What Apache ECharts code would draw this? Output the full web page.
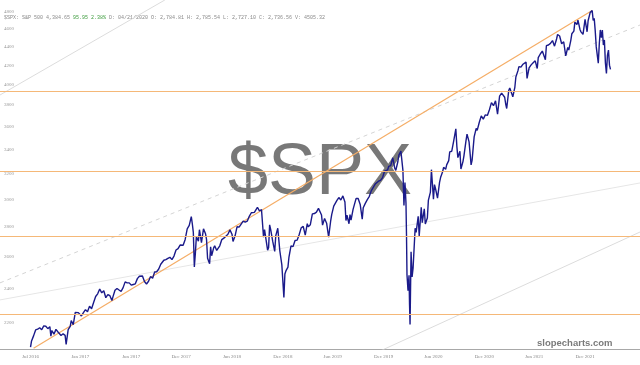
<!DOCTYPE html>
<html>
<head>
<meta charset="utf-8">
<script src="https://cdn.jsdelivr.net/npm/echarts@6/dist/echarts.min.js"></script>
<style>
  html, body { margin: 0; padding: 0; background: #fff; }
  #chart { width: 640px; height: 365px; }
</style>
</head>
<body>
<div id="chart"></div>
<script>
const priceDates = [
  2016.49, 2016.50, 2016.52, 2016.54, 2016.56, 2016.58, 2016.60, 2016.62, 2016.64, 2016.66,
  2016.68, 2016.69, 2016.70, 2016.72, 2016.74, 2016.76, 2016.77, 2016.79, 2016.81, 2016.83,
  2016.84, 2016.86, 2016.88, 2016.89, 2016.91, 2016.93, 2016.96, 2016.99,
  2017.01, 2017.03, 2017.05, 2017.07, 2017.09, 2017.11, 2017.13, 2017.15, 2017.17, 2017.19,
  2017.21, 2017.23, 2017.25, 2017.27, 2017.29, 2017.30, 2017.32, 2017.34, 2017.36, 2017.38,
  2017.40, 2017.42, 2017.44, 2017.46, 2017.48, 2017.50, 2017.52, 2017.54, 2017.56, 2017.57,
  2017.59, 2017.61, 2017.63, 2017.65, 2017.67, 2017.69, 2017.71, 2017.73, 2017.75, 2017.77,
  2017.80, 2017.82, 2017.84, 2017.86, 2017.88, 2017.90, 2017.92, 2017.94, 2017.96, 2017.99,
  2018.01, 2018.03, 2018.05, 2018.07, 2018.08, 2018.09, 2018.10, 2018.11, 2018.12, 2018.14,
  2018.15, 2018.17, 2018.19, 2018.21, 2018.22, 2018.23, 2018.25, 2018.26, 2018.27, 2018.29,
  2018.30, 2018.32, 2018.33, 2018.35, 2018.37, 2018.39, 2018.41, 2018.43, 2018.45, 2018.47,
  2018.48, 2018.50, 2018.52, 2018.54, 2018.56, 2018.58, 2018.60, 2018.62, 2018.64, 2018.66,
  2018.67, 2018.69, 2018.72, 2018.74, 2018.76, 2018.78, 2018.79, 2018.80, 2018.82, 2018.83,
  2018.84, 2018.85, 2018.87, 2018.89, 2018.90, 2018.92, 2018.94, 2018.96, 2018.98, 2018.99, 2019.00,
  2019.02, 2019.03, 2019.05, 2019.07, 2019.09, 2019.11, 2019.13, 2019.15, 2019.17, 2019.19,
  2019.21, 2019.22, 2019.24, 2019.26, 2019.28, 2019.30, 2019.32, 2019.33, 2019.35, 2019.36,
  2019.38, 2019.40, 2019.42, 2019.44, 2019.45, 2019.47, 2019.48, 2019.50, 2019.52, 2019.54,
  2019.56, 2019.58, 2019.59, 2019.60, 2019.62, 2019.63, 2019.64, 2019.66, 2019.67, 2019.69,
  2019.71, 2019.73, 2019.75, 2019.76, 2019.78, 2019.80, 2019.82, 2019.84, 2019.86, 2019.88,
  2019.89, 2019.91, 2019.93, 2019.95, 2019.97, 2020.00,
  2020.01, 2020.03, 2020.05, 2020.07, 2020.08, 2020.10, 2020.11, 2020.13, 2020.14, 2020.15,
  2020.16, 2020.17, 2020.18, 2020.185, 2020.19, 2020.20, 2020.21, 2020.215, 2020.22, 2020.23,
  2020.24, 2020.25, 2020.27, 2020.28, 2020.30, 2020.31, 2020.32, 2020.33, 2020.34, 2020.36,
  2020.37, 2020.39, 2020.40, 2020.42, 2020.43, 2020.45, 2020.46, 2020.47, 2020.49, 2020.51,
  2020.52, 2020.54, 2020.55, 2020.57, 2020.58, 2020.60, 2020.61, 2020.63, 2020.65, 2020.67,
  2020.68, 2020.69, 2020.71, 2020.72, 2020.74, 2020.75, 2020.77, 2020.78, 2020.80, 2020.82,
  2020.83, 2020.85, 2020.87, 2020.88, 2020.90, 2020.92, 2020.94, 2020.96, 2020.98, 2021.00,
  2021.02, 2021.04, 2021.06, 2021.08, 2021.10, 2021.12, 2021.13, 2021.15, 2021.16, 2021.17,
  2021.19, 2021.20, 2021.22, 2021.23, 2021.25, 2021.26, 2021.28, 2021.29, 2021.31, 2021.33,
  2021.34, 2021.36, 2021.37, 2021.39, 2021.41, 2021.43, 2021.45, 2021.47, 2021.48, 2021.50,
  2021.52, 2021.53, 2021.55, 2021.56, 2021.58, 2021.60, 2021.62, 2021.64, 2021.66, 2021.67,
  2021.69, 2021.71, 2021.73, 2021.75, 2021.77, 2021.78, 2021.80, 2021.81, 2021.83, 2021.84,
  2021.86, 2021.87, 2021.89, 2021.90, 2021.92, 2021.94, 2021.96, 2021.97, 2021.99,
  2022.01, 2022.02, 2022.03, 2022.04, 2022.05, 2022.06, 2022.07, 2022.08, 2022.09, 2022.10,
  2022.11, 2022.12, 2022.13, 2022.14, 2022.15, 2022.16, 2022.17, 2022.18, 2022.19
];
const priceValues = [
  2071, 2103, 2130, 2162, 2166, 2174, 2163, 2184, 2182, 2169,
  2180, 2128, 2159, 2139, 2165, 2151, 2153, 2132, 2141, 2133,
  2085, 2164, 2181, 2213, 2191, 2259, 2258, 2239,
  2258, 2275, 2263, 2295, 2280, 2316, 2351, 2367, 2396, 2373,
  2385, 2344, 2362, 2356, 2328, 2349, 2388, 2399, 2390, 2382,
  2404, 2439, 2433, 2433, 2419, 2423, 2427, 2459, 2474, 2472,
  2475, 2441, 2426, 2443, 2472, 2461, 2500, 2502, 2519, 2549,
  2575, 2579, 2587, 2594, 2579, 2602, 2642, 2651, 2675, 2674,
  2713, 2786, 2810, 2873, 2822, 2762, 2532, 2620, 2732, 2701,
  2780, 2691, 2786, 2752, 2711, 2588, 2553, 2663, 2604, 2656,
  2670, 2639, 2630, 2670, 2712, 2722, 2735, 2748, 2779, 2749,
  2699, 2736, 2801, 2798, 2819, 2840, 2833, 2840, 2875, 2901,
  2896, 2904, 2941, 2914, 2925, 2728, 2780, 2768, 2641, 2658,
  2814, 2782, 2701, 2633, 2737, 2790, 2637, 2545, 2346, 2488, 2507,
  2531, 2596, 2670, 2665, 2706, 2708, 2745, 2793, 2803, 2743,
  2822, 2801, 2815, 2893, 2895, 2905, 2933, 2946, 2884, 2812,
  2859, 2826, 2728, 2843, 2887, 2950, 2942, 2990, 3014, 2995,
  3026, 2980, 2845, 2883, 2822, 2888, 2847, 2926, 2938, 3007,
  3006, 2962, 2855, 2938, 2970, 2998, 3023, 3067, 3093, 3120,
  3110, 3140, 3146, 3168, 3221, 3231,
  3258, 3265, 3330, 3243, 3226, 3297, 3352, 3386, 3393, 3226,
  2954, 3130, 2972, 2750, 2481, 2386, 2480, 2305, 2192, 2630,
  2470, 2526, 2790, 2761, 2875, 2737, 2836, 2940, 2830, 2930,
  2820, 2863, 2992, 3055, 3232, 3002, 3113, 3083, 3009, 3130,
  3169, 3215, 3251, 3235, 3271, 3306, 3380, 3385, 3478, 3580,
  3427, 3331, 3385, 3237, 3298, 3348, 3477, 3534, 3465, 3271,
  3310, 3509, 3585, 3567, 3638, 3699, 3669, 3709, 3703, 3756,
  3824, 3795, 3841, 3714, 3887, 3916, 3932, 3876, 3811, 3768,
  3943, 3968, 3910, 3881, 3974, 4078, 4141, 4185, 4180, 4211,
  4192, 4233, 4063, 4173, 4204, 4227, 4247, 4166, 4281, 4320,
  4352, 4369, 4258, 4411, 4419, 4437, 4468, 4406, 4486, 4537,
  4520, 4433, 4455, 4300, 4391, 4363, 4471, 4545, 4575, 4680,
  4650, 4704, 4595, 4567, 4538, 4712, 4568, 4696, 4793,
  4818, 4700, 4726, 4578, 4398, 4410, 4222, 4431, 4589, 4500,
  4587, 4419, 4475, 4225, 4114, 4306, 4363, 4201, 4157
];

const xTickPos = [2016.49, 2016.98, 2017.48, 2017.97, 2018.47, 2018.97, 2019.46, 2019.96, 2020.45, 2020.95, 2021.44, 2021.94];
const xTickLabels = ['Jul 2016', 'Jan 2017', 'Jun 2017', 'Dec 2017', 'Jun 2018', 'Dec 2018', 'Jun 2019', 'Dec 2019', 'Jun 2020', 'Dec 2020', 'Jun 2021', 'Dec 2021'];
const yTicks = [2200, 2400, 2600, 2800, 3000, 3200, 3400, 3600, 3800, 4000, 4200, 4400, 4600, 4800];

// horizontal support / resistance levels
const levels = [3932, 3217, 2737, 2248];
// rising orange trend line
const trendDates = [2016.52, 2022.01];
const trendValues = [2065, 4818];
// faint grey channel lines drawn on the chart
const upperDates = [2016.19, 2017.81];
const upperValues = [3898, 4947];
const midDates = [2016.19, 2022.48];
const midValues = [2433, 4646];
const flatDates = [2016.19, 2022.48];
const flatValues = [2331, 3126];
const lowerDates = [2019.63, 2022.48];
const lowerValues = [1981, 2764];

const header = '$SPX: S&P 500 4,384.65 {g|95.95 2.38%} D: 04/21/2020 O: 2,784.81 H: 2,785.54 L: 2,727.10 C: 2,736.56 V: 4505.32';

const zip = (xs, ys) => xs.map((x, i) => [x, ys[i]]);

const guide = (name, xs, ys, color, type) => ({
  name: name,
  type: 'line',
  data: zip(xs, ys),
  symbol: 'none',
  silent: true,
  lineStyle: { color: color, width: 1, type: type },
  z: 1
});

const chart = echarts.init(document.getElementById('chart'), null, { renderer: 'canvas' });

const option = {
  animation: false,
  backgroundColor: '#fff',
  grid: { left: 0, right: 0, top: 0, bottom: 16 },
  xAxis: {
    type: 'value',
    min: 2016.19,
    max: 2022.48,
    splitLine: { show: false },
    axisLine: { show: true, lineStyle: { color: '#a8a8a8', width: 1 } },
    axisTick: { show: false },
    axisLabel: {
      customValues: xTickPos,
      formatter: (v) => {
        const i = xTickPos.findIndex(p => Math.abs(p - v) < 0.001);
        return i >= 0 ? xTickLabels[i] : '';
      },
      fontFamily: 'Liberation Serif',
      fontSize: 5,
      color: '#888',
      margin: 5
    }
  },
  yAxis: {
    type: 'log',
    logBase: 10,
    min: 2061,
    max: 4947,
    splitLine: { show: false },
    axisLine: { show: false },
    axisTick: { show: false },
    axisLabel: {
      customValues: yTicks,
      inside: true,
      formatter: (v) => String(Math.round(v)),
      fontFamily: 'Liberation Serif',
      fontSize: 5,
      color: '#999',
      margin: 4
    }
  },
  graphic: [
    {
      type: 'text',
      left: 'center',
      top: 138,
      z: 0,
      style: {
        text: '$SPX',
        fontFamily: 'Liberation Sans',
        fontSize: 72,
        fill: 'rgba(105,105,105,0.9)'
      }
    },
    {
      type: 'text',
      left: 537,
      top: 338,
      style: {
        text: 'slopecharts.com',
        fontFamily: 'Liberation Sans',
        fontWeight: 'bold',
        fontSize: 9.5,
        fill: '#7a7a7a'
      }
    },
    {
      type: 'text',
      left: 4,
      top: 15,
      style: {
        text: header,
        fontFamily: 'Liberation Mono',
        fontSize: 5,
        fill: '#888',
        rich: { g: { fill: '#3a9a3a', fontFamily: 'Liberation Mono', fontSize: 5 } }
      }
    }
  ],
  series: [
    {
      name: 'levels',
      type: 'line',
      data: [],
      silent: true,
      markLine: {
        symbol: 'none',
        silent: true,
        label: { show: false },
        lineStyle: { color: '#f5b878', width: 1.2, type: 'solid' },
        data: levels.map(v => ({ yAxis: v }))
      }
    },
    guide('upper', upperDates, upperValues, '#dcdcdc', 'solid'),
    guide('mid', midDates, midValues, '#d4d4d4', [4, 4]),
    guide('flat', flatDates, flatValues, '#e6e6e6', 'solid'),
    guide('lower', lowerDates, lowerValues, '#dcdcdc', 'solid'),
    {
      name: 'trend',
      type: 'line',
      data: zip(trendDates, trendValues),
      symbol: 'none',
      silent: true,
      lineStyle: { color: '#f5ad66', width: 1.2 },
      z: 3
    },
    {
      name: '$SPX',
      type: 'line',
      data: zip(priceDates, priceValues),
      symbol: 'none',
      lineStyle: { color: '#1a1a8a', width: 1.4 },
      z: 4
    }
  ]
};

chart.setOption(option);
</script>
</body>
</html>
